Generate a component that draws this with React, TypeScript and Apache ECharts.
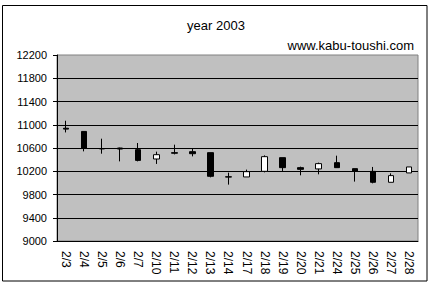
import React, { useEffect, useRef } from "react";
import * as echarts from "echarts";

const categories = ["2/3","2/4","2/5","2/6","2/7","2/10","2/11","2/12","2/13","2/14","2/17","2/18","2/19","2/20","2/21","2/24","2/25","2/26","2/27","2/28"];
// [open, close, low, high]
const opens  = [10940,10885,10590,10600,10571,10411,10520,10537,10520,10105,10102,10199,10434,10262,10240,10348,10245,10198,10010,10171];
const closes = [10925,10600,10585,10582,10387,10485,10510,10502,10113,10100,10193,10451,10262,10233,10331,10262,10205,10010,10125,10274];
const lows   = [10868,10542,10502,10370,10370,10326,10490,10456,10095, 9970,10102,10181,10205,10130,10147,10262,10022, 9992,10010,10171];
const highs  = [11069,10885,10760,10605,10686,10537,10657,10588,10520,10176,10228,10473,10434,10279,10348,10468,10245,10274,10164,10274];
const yTicks = { min: 9000, max: 12200, step: 400 };
const title = "year 2003";
const watermark = "www.kabu-toushi.com";

export default function App() {
  const ref = useRef<HTMLDivElement>(null);
  useEffect(() => {
    const chart = echarts.init(ref.current!, undefined, { renderer: "svg" });
    const data = categories.map((_, i) => [opens[i], closes[i], lows[i], highs[i]]);
    const font = "'Liberation Sans', Arial, sans-serif";
    chart.setOption({
      animation: false,
      backgroundColor: "#ffffff",
      textStyle: { fontFamily: font },
      title: [
        { text: title, left: "center", top: 14, textStyle: { fontSize: 13, fontWeight: "normal", color: "#000", fontFamily: font } },
        { text: watermark, right: 13, top: 34, textStyle: { fontSize: 13, fontWeight: "normal", color: "#000", fontFamily: font } },
      ],
      graphic: [
        { type: "rect", shape: { x: 2.5, y: 5.5, width: 424.5, height: 275.5 }, style: { fill: "none", stroke: "#000", lineWidth: 1 }, z: 100 },
      ],
      grid: {
        left: 57, right: 14, top: 55, bottom: 47,
        show: true, backgroundColor: "#c0c0c0", borderColor: "#808080", borderWidth: 1,
      },
      xAxis: {
        type: "category",
        data: categories,
        boundaryGap: true,
        axisLine: { lineStyle: { color: "#000", width: 1 } },
        axisTick: { inside: true, length: 4, lineStyle: { color: "#000" }, alignWithLabel: false },
        axisLabel: { rotate: -90, margin: 10, fontSize: 12, color: "#000", fontFamily: font, interval: 0 },
        splitLine: { show: false },
      },
      yAxis: {
        type: "value",
        min: yTicks.min, max: yTicks.max, interval: yTicks.step,
        axisLine: { show: true, lineStyle: { color: "#000", width: 1 } },
        axisTick: { show: true, inside: false, length: 4, lineStyle: { color: "#000" } },
        axisLabel: { fontSize: 11, color: "#000", margin: 10, fontFamily: font, formatter: (v: number) => String(v) },
        splitLine: { show: true, showMaxLine: false, lineStyle: { color: "#000", width: 1 } },
      },
      series: [
        {
          type: "candlestick",
          data,
          barWidth: 6,
          itemStyle: { color: "#ffffff", color0: "#000000", borderColor: "#000000", borderColor0: "#000000", borderWidth: 1 },
        },
      ],
    });
    return () => chart.dispose();
  }, []);
  return <div ref={ref} style={{ position: "fixed", left: 0, top: 0, width: 432, height: 288 }} />;
}
